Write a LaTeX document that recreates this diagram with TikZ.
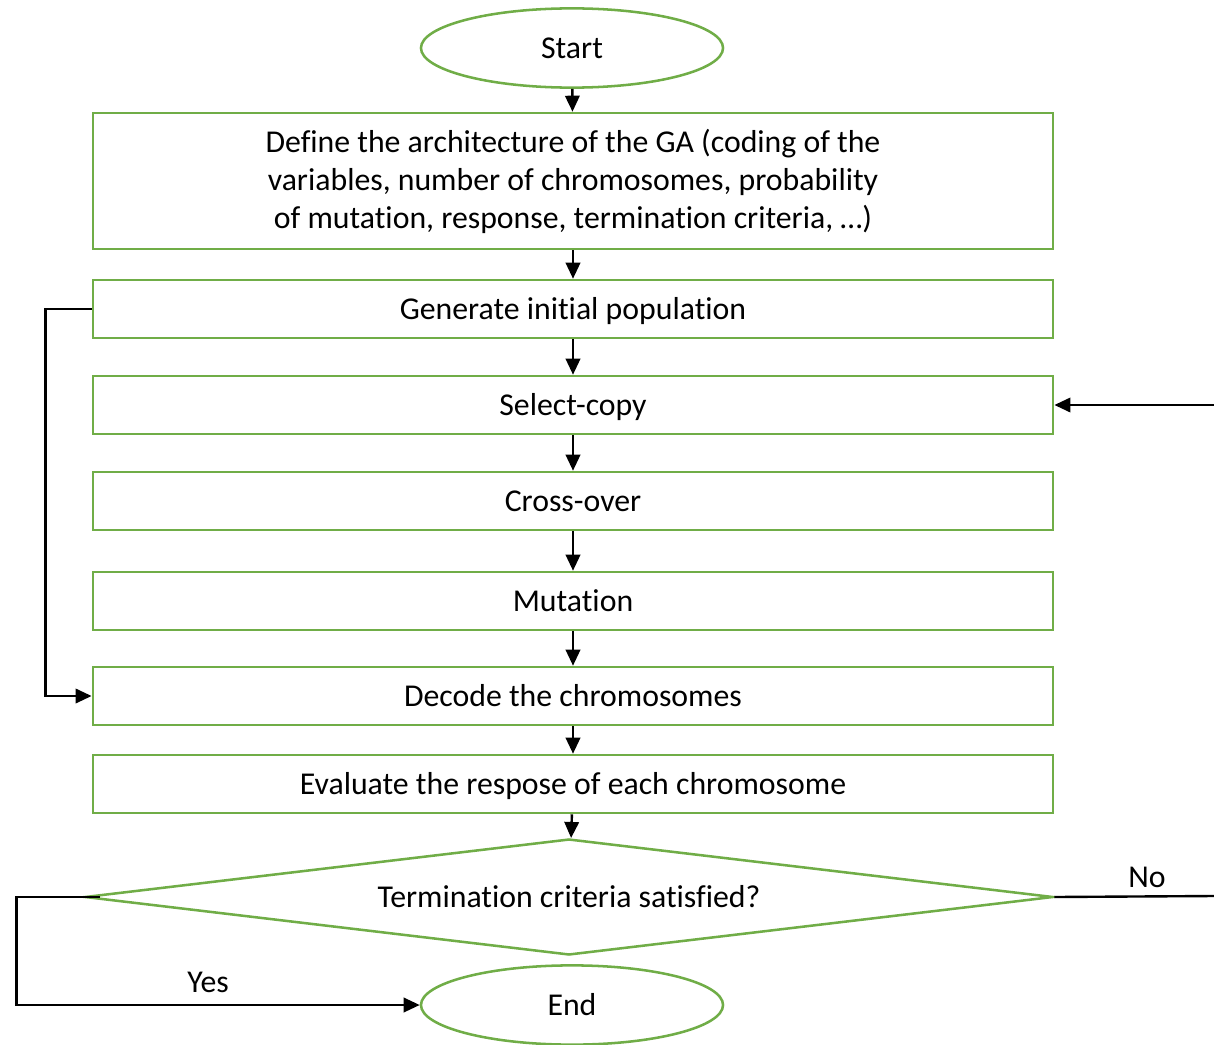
\documentclass[tikz,border=0pt]{standalone}
\usepackage{fontspec}
\setmainfont[RawFeature=-liga]{Carlito}
\usetikzlibrary{arrows.meta,shapes.geometric}
\definecolor{leaf}{HTML}{70AD47}
\begin{document}
\begin{tikzpicture}[x=0.025cm,y=-0.025cm,
  every node/.style={font=\fontsize{22.6}{27}\selectfont, text=black},
  stepbox/.style={draw=leaf, line width=1.8pt, minimum width=24cm, minimum height=1.45cm, inner sep=0pt, align=center, text height=19pt, text depth=4pt},
  terminal/.style={draw=leaf, line width=1.8pt, ellipse, minimum width=7.55cm, minimum height=1.98cm, inner sep=0pt, text height=19pt, text depth=4pt},
  decision/.style={draw=leaf, line width=1.8pt, diamond, shape aspect=8.3, minimum width=24.2cm, minimum height=2.9cm, inner sep=0pt, text height=19pt, text depth=4pt},
  flow/.style={draw=black, line width=1.7pt, -{Triangle[length=0.4cm,width=0.36cm]}},
  plain/.style={draw=black, line width=1.7pt}]
\useasboundingbox (0,0) rectangle (1214,1044);

\node[terminal] (start) at (572,48) {Start};
\node[stepbox, minimum height=3.4cm, text height=, text depth=] (arch) at (573,181)
  {\rule{0pt}{4pt}Define the architecture of the GA (coding of the\\variables, number of chromosomes, probability\\of mutation, response, termination criteria, \ldots)};
\node[stepbox] (gen) at (573,309) {Generate initial population};
\node[stepbox] (sel) at (573,405) {Select-copy};
\node[stepbox] (cross) at (573,501) {Cross-over};
\node[stepbox] (mut) at (573,601) {Mutation};
\node[stepbox] (dec) at (573,696) {Decode the chromosomes};
\node[stepbox] (eval) at (573,784) {Evaluate the respose of each chromosome};
\node[decision] (term) at (569,897) {Termination criteria satisfied?};
\node[terminal] (end) at (572,1005) {End};

\coordinate (loopin) at (1214,405);
\coordinate (noout) at (1214,896);

\draw[flow] (start) -- (arch);
\draw[flow] (arch) -- (gen);
\draw[flow] (gen) -- (sel);
\draw[flow] (sel) -- (cross);
\draw[flow] (cross) -- (mut);
\draw[flow] (mut) -- (dec);
\draw[flow] (dec) -- (eval);
\draw[flow] (eval) -- (term);

\draw[flow] (gen.west) -- ++(-46,0) |- (dec.west);
\draw[flow] (loopin) -- (sel.east);
\draw[plain] (term.east) -- (noout);
\node at (1147,877) {No};
\draw[flow] ([xshift=0.4cm]term.west) -- ++(-83,0) |- (end.west);
\node at (208,982) {Yes};
\end{tikzpicture}
\end{document}
